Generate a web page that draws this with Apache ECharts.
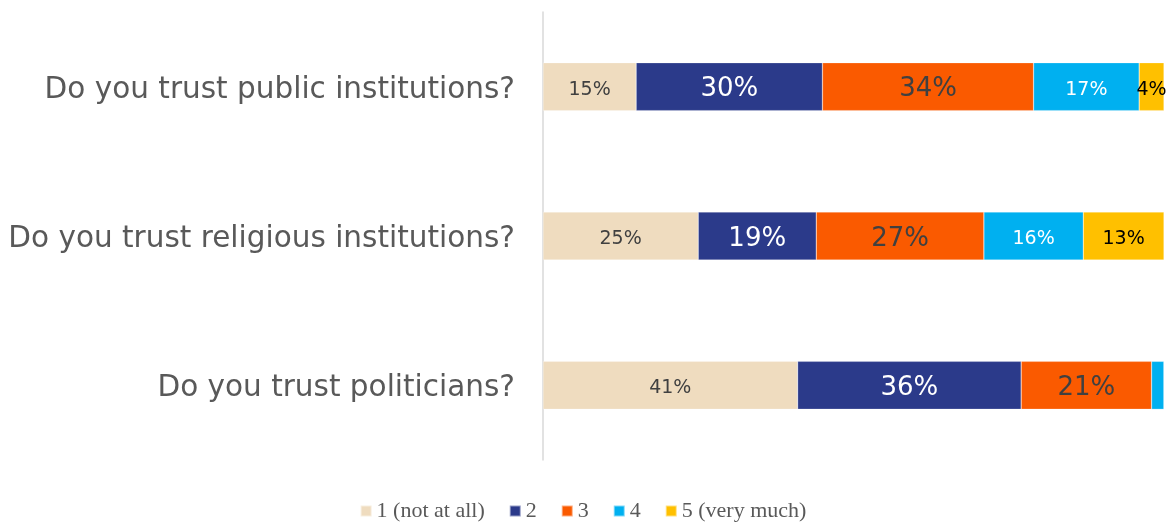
<!DOCTYPE html>
<html>
<head>
<meta charset="utf-8">
<script src="https://cdn.jsdelivr.net/npm/echarts@6/dist/echarts.min.js"></script>
<style>
html, body { margin: 0; padding: 0; background: #fff; }
#chart { width: 1166px; height: 522px; }
</style>
</head>
<body>
<div id="chart"></div>
<script>
// categories bottom -> top (category axis on y starts from bottom)
var questions = ['Do you trust politicians?', 'Do you trust religious institutions?', 'Do you trust public institutions?'];
var levels = ['1 (not at all)', '2', '3', '4', '5 (very much)'];
var level1 = [41, 25, 15];
var level2 = [36, 19, 30];
var level3 = [21, 27, 34];
var level4 = [2, 16, 17];
var level5 = [0, 13, 4];

var colors = ['#EFDCBF', '#2B3A8A', '#FA5A00', '#00B0F0', '#FFC000'];
var labelColors = ['#404040', '#ffffff', '#404040', '#ffffff', '#000000'];
var labelSizes = [19, 26, 26, 19, 19];
var values = [level1, level2, level3, level4, level5];

var chart = echarts.init(document.getElementById('chart'));

var series = levels.map(function (name, i) {
  return {
    name: name,
    type: 'bar',
    stack: 'total',
    barWidth: 48,
    data: values[i],
    itemStyle: { color: colors[i], borderColor: 'rgba(255,255,255,0.5)', borderWidth: 0.5 },
    label: {
      show: true,
      position: 'inside',
      offset: [0, 3],
      color: labelColors[i],
      fontSize: labelSizes[i],
      fontFamily: 'DejaVu Sans',
      formatter: function (p) { return p.value >= 3 ? p.value + '%' : ''; }
    }
  };
});

chart.setOption({
  animation: false,
  grid: { left: 543, right: 2, top: 12, bottom: 62 },
  legend: {
    bottom: -5,
    left: 'center',
    itemWidth: 11,
    itemHeight: 11,
    itemGap: 24,
    icon: 'rect',
    textStyle: { fontFamily: 'Liberation Serif', fontSize: 22, color: '#595959' },
    data: levels
  },
  xAxis: { type: 'value', min: 0, max: 100, show: false },
  yAxis: {
    type: 'category',
    data: questions,
    axisLine: { show: true, lineStyle: { color: '#D9D9D9', width: 1.5 } },
    axisTick: { show: false },
    axisLabel: {
      margin: 28,
      formatter: '{q|{value}}',
      rich: {
        q: { fontFamily: 'DejaVu Sans', fontSize: 29.5, color: '#595959', padding: [7, 0, 0, 0] }
      }
    }
  },
  series: series
});
</script>
</body>
</html>
